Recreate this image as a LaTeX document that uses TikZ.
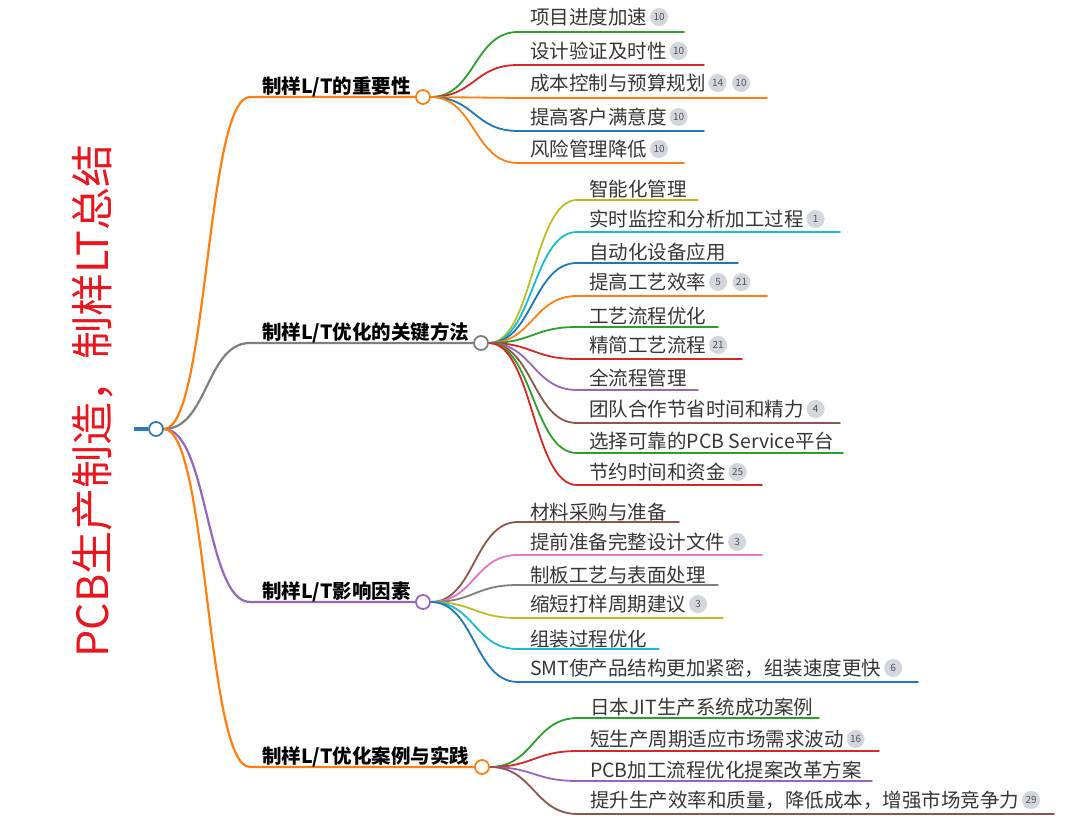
\documentclass[tikz,border=0pt]{standalone}
\usepackage{fontspec}
\setmainfont{Noto Sans CJK SC}
\usetikzlibrary{calc}
\definecolor{cgreen}{HTML}{2CA02C}
\definecolor{cred}{HTML}{D62728}
\definecolor{corange}{HTML}{FF7F0E}
\definecolor{cblue}{HTML}{1F77B4}
\definecolor{cgray}{HTML}{7F7F7F}
\definecolor{cpurple}{HTML}{9467BD}
\definecolor{cbrown}{HTML}{8C564B}
\definecolor{cpink}{HTML}{E377C2}
\definecolor{colive}{HTML}{BCBD22}
\definecolor{ccyan}{HTML}{17BECF}
\definecolor{rootblue}{HTML}{2B7BB9}
\definecolor{rootred}{HTML}{E8171F}
\definecolor{leafgray}{HTML}{363636}
\definecolor{badgefill}{HTML}{D3D6DD}
\definecolor{badgetext}{HTML}{555555}
\pgfdeclarelayer{bg}
\pgfdeclarelayer{paper}
\pgfsetlayers{paper,bg,main}
\newcommand\kid[8]{%
  \coordinate (#1-s) at (#3,#4);
  \coordinate (#1-e) at (#7,#4);
  \begin{pgfonlayer}{bg}
  \draw[edge, #6] (#2.east) .. controls +(44,0) and +(-44,0) .. (#1-s) -- (#1-e);
  \end{pgfonlayer}
  \node[leaf] (#1) at (#3+12,#5) {#8};
}
\newcommand\onebadge[2]{\node[badge] (#1-b1) at (#1.east) {#2};}
\newcommand\twobadges[3]{\node[badge] (#1-b1) at (#1.east) {#2};
  \node[badge, xshift=2.5pt] (#1-b2) at (#1-b1.east) {#3};}
\begin{document}
\begin{tikzpicture}[x=1pt,y=-1pt,
  hub/.style={circle, draw=#1, fill=white, line width=1.8pt, minimum size=14pt, inner sep=0pt},
  leaf/.style={anchor=west, inner sep=0pt, text height=17pt, text depth=2.5pt,
    font=\fontsize{19.5}{20}\selectfont, text=leafgray},
  mainlbl/.style={anchor=west, inner sep=0pt, text height=17pt, text depth=2.5pt,
    font=\fontsize{19.5}{20}\selectfont\bfseries, text=black},
  badge/.style={circle, fill=badgefill, inner sep=0pt, minimum size=18pt, anchor=west,
    xshift=2.5pt, font=\fontsize{10}{10}\selectfont, text=badgetext},
  edge/.style={line width=1.8pt, line cap=round},
  mainedge/.style={line width=2.2pt, line cap=round}]
\useasboundingbox (0,0) rectangle (1080,824);
\begin{pgfonlayer}{paper}
\fill[white] (0,0) rectangle (1080,824);
\end{pgfonlayer}

% root
\node[rotate=90, text=rootred, font=\fontsize{43}{43}\selectfont, inner sep=0pt] (title) at (93,401) {PCB生产制造，制样LT总结};
\node[hub=rootblue] (r) at (156,429) {};
\coordinate (stub) at (134,429);
\begin{pgfonlayer}{bg}
\draw[rootblue, line width=4pt] (stub) -- (r.west);
\end{pgfonlayer}

% main hubs
\node[hub=corange] (g1) at (423,97) {};
\node[hub=cgray] (g2) at (481,343) {};
\node[hub=cpurple] (g3) at (423,602) {};
\node[hub=corange] (g4) at (482,767) {};

\coordinate (m1) at (250,97);
\coordinate (m2) at (250,343);
\coordinate (m3) at (250,602);
\coordinate (m4) at (250,767);
\begin{pgfonlayer}{bg}
\draw[mainedge, corange] (r.east) .. controls +(44,0) and +(-44,0) .. (m1) -- (g1.west);
\draw[mainedge, cgray] (r.east) .. controls +(44,0) and +(-44,0) .. (m2) -- (g2.west);
\draw[mainedge, cpurple] (r.east) .. controls +(44,0) and +(-44,0) .. (m3) -- (g3.west);
\draw[mainedge, corange] (r.east) .. controls +(44,0) and +(-44,0) .. (m4) -- (g4.west);
\end{pgfonlayer}
\node[mainlbl] (l1) at (262,86) {制样L/T的重要性};
\node[mainlbl] (l2) at (262,332) {制样L/T优化的关键方法};
\node[mainlbl] (l3) at (262,591) {制样L/T影响因素};
\node[mainlbl] (l4) at (262,756) {制样L/T优化案例与实践};

% group 1
\kid{k11}{g1}{518}{32}{17}{cgreen}{684}{项目进度加速}\onebadge{k11}{10}
\kid{k12}{g1}{518}{65}{51}{cred}{704}{设计验证及时性}\onebadge{k12}{10}
\kid{k13}{g1}{518}{98}{83}{corange}{767}{成本控制与预算规划}\twobadges{k13}{14}{10}
\kid{k14}{g1}{518}{131}{117}{cblue}{704}{提高客户满意度}\onebadge{k14}{10}
\kid{k15}{g1}{518}{163}{149}{corange}{684}{风险管理降低}\onebadge{k15}{10}

% group 2
\kid{k21}{g2}{577}{200}{189}{colive}{698}{智能化管理}
\kid{k22}{g2}{577}{232}{219}{ccyan}{840}{实时监控和分析加工过程}\onebadge{k22}{1}
\kid{k23}{g2}{577}{263}{252}{cblue}{738}{自动化设备应用}
\kid{k24}{g2}{577}{296}{282}{corange}{767}{提高工艺效率}\twobadges{k24}{5}{21}
\kid{k25}{g2}{577}{327}{316}{cgreen}{718}{工艺流程优化}
\kid{k26}{g2}{577}{359}{345}{cred}{742}{精简工艺流程}\onebadge{k26}{21}
\kid{k27}{g2}{577}{390}{378}{cpurple}{698}{全流程管理}
\kid{k28}{g2}{577}{423}{409}{cbrown}{840}{团队合作节省时间和精力}\onebadge{k28}{4}
\kid{k29}{g2}{577}{453}{441}{cgreen}{843}{选择可靠的PCB Service平台}
\kid{k2a}{g2}{577}{485}{472}{cred}{762}{节约时间和资金}\onebadge{k2a}{25}

% group 3
\kid{k31}{g3}{518}{522}{512}{cbrown}{679}{材料采购与准备}
\kid{k32}{g3}{518}{555}{542}{cpink}{762}{提前准备完整设计文件}\onebadge{k32}{3}
\kid{k33}{g3}{518}{585}{575}{cgray}{718}{制板工艺与表面处理}
\kid{k34}{g3}{518}{618}{604}{colive}{723}{缩短打样周期建议}\onebadge{k34}{3}
\kid{k35}{g3}{518}{649}{639}{ccyan}{659}{组装过程优化}
\kid{k36}{g3}{518}{682}{668}{cblue}{918}{SMT使产品结构更加紧密，组装速度更快}\onebadge{k36}{6}

% group 4
\kid{k41}{g4}{578}{718}{707}{cgreen}{819}{日本JIT生产系统成功案例}
\kid{k42}{g4}{578}{751}{739}{cred}{879}{短生产周期适应市场需求波动}\onebadge{k42}{16}
\kid{k43}{g4}{578}{781}{770}{cpurple}{872}{PCB加工流程优化提案改革方案}
\kid{k44}{g4}{578}{814}{800}{cbrown}{1054}{提升生产效率和质量，降低成本，增强市场竞争力}\onebadge{k44}{29}
\end{tikzpicture}
\end{document}
